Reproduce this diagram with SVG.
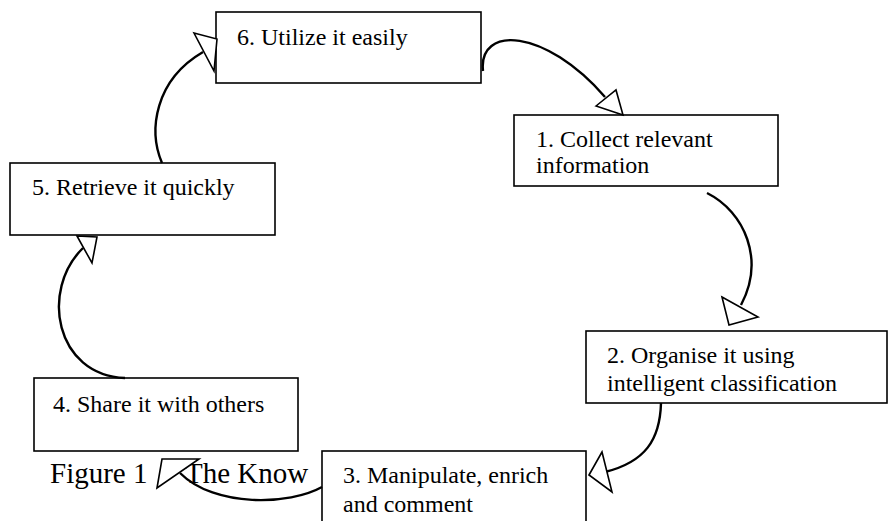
<svg xmlns="http://www.w3.org/2000/svg" width="888" height="521" viewBox="0 0 888 521">
<style>
.box{fill:#fff;stroke:#000;stroke-width:1.6}
.lbl{font-family:"Liberation Serif","Times New Roman",serif;font-size:24px;fill:#000}
.cap{font-family:"Liberation Serif","Times New Roman",serif;font-size:29px;fill:#000}
.conn{fill:none;stroke:#000;stroke-width:2.4}
.head{fill:#fff;stroke:#000;stroke-width:1.6;stroke-linejoin:miter}
</style>
<rect width="888" height="521" fill="#fff"/>
<g id="caption">
<text class="cap" x="50" y="483">Figure 1</text>
<text class="cap" x="185" y="483">The Know</text>
</g>
<g id="node6"><rect class="box" x="216" y="12" width="265" height="71"/><text class="lbl" x="237" y="45">6. Utilize it easily</text></g>
<g id="node1"><rect class="box" x="514" y="115" width="264" height="71"/><text class="lbl" x="536" y="147">1. Collect relevant</text><text class="lbl" x="536" y="173">information</text></g>
<g id="node2"><rect class="box" x="586" y="331" width="301" height="72"/><text class="lbl" x="607" y="363">2. Organise it using</text><text class="lbl" x="607" y="391">intelligent classification</text></g>
<g id="node5"><rect class="box" x="10" y="163" width="265" height="72"/><text class="lbl" x="32" y="195">5. Retrieve it quickly</text></g>
<g id="node4"><rect class="box" x="34" y="378" width="264" height="73"/><text class="lbl" x="53" y="412">4. Share it with others</text></g>
<g id="node3"><rect class="box" x="322" y="451" width="264" height="80"/><text class="lbl" x="343" y="483">3. Manipulate, enrich</text><text class="lbl" x="343" y="512">and comment</text></g>
<g id="connectors">
<path class="conn" d="M483,71 C478,25 545,28 605,97"/>
<polygon class="head" points="596,106 616,90 623,115"/>
<path class="conn" d="M707,193 C745,212 765,260 741,305"/>
<polygon class="head" points="722,297 758,317 729,325"/>
<path class="conn" d="M661,403 C660,440 645,462 605,472"/>
<polygon class="head" points="589,475 602,452 612,492"/>
<path class="conn" d="M322,487 C290,505 215,508 180,473"/>
<polygon class="head" points="157,488 162,459 199,459"/>
<path class="conn" d="M125,378 C55,375 40,290 83,248"/>
<polygon class="head" points="77,236 97,237 92,263"/>
<path class="conn" d="M162,163 C148,130 155,80 203,52"/>
<polygon class="head" points="194,33 217,39 214,71"/>
</g>
</svg>
